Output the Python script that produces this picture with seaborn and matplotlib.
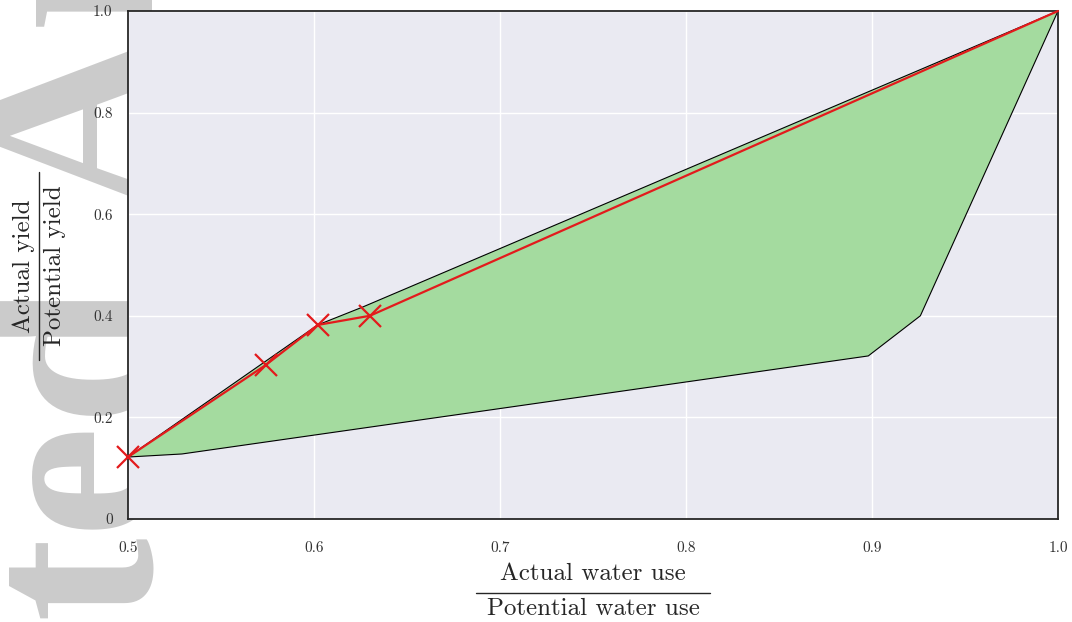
import matplotlib
matplotlib.use("Agg")
import matplotlib.pyplot as plt
from matplotlib.lines import Line2D
import seaborn as sns

# Polygon of feasible outcomes (upper edge then lower edge back)
poly_x = [0.5, 0.602, 0.626, 1.0, 0.926, 0.898, 0.529, 0.5]
poly_y = [0.122, 0.382, 0.417, 1.0, 0.400, 0.321, 0.128, 0.122]

# Red path through the marked points
path_x = [0.5, 0.574, 0.602, 0.630, 1.0]
path_y = [0.122, 0.303, 0.382, 0.400, 1.0]

x_ticks = [0.5, 0.6, 0.7, 0.8, 0.9, 1.0]
x_tick_labels = ["0.5", "0.6", "0.7", "0.8", "0.9", "1.0"]
y_ticks = [0, 0.2, 0.4, 0.6, 0.8, 1.0]
y_tick_labels = ["0", "0.2", "0.4", "0.6", "0.8", "1.0"]

x_label = ("Actual water use", "Potential water use")
y_label = ("Actual yield", "Potential yield")

W, H = 1072, 622

sns.set_theme(style="darkgrid")
plt.rcParams["font.family"] = ["serif"]
plt.rcParams["font.serif"] = ["cmr10", "DejaVu Serif"]
plt.rcParams["mathtext.fontset"] = "cm"
plt.rcParams["axes.formatter.use_mathtext"] = True

fig = plt.figure(figsize=(W / 100, H / 100), dpi=100)
ax = fig.add_axes([128 / W, 103 / H, 930 / W, 508 / H])


def fx(px):
    return px / W


def fy(py):
    return 1 - py / H


# faint watermark behind the axes
wm = dict(rotation=90, rotation_mode="anchor", va="baseline", fontsize=182,
          fontweight="bold", color="#cbcbcb", family="Liberation Serif", zorder=-5)
fig.text(fx(150), fy(282), "Accepted", ha="right", **wm)
fig.text(fx(150), fy(212), "Article", ha="left", **wm)

ax.fill(poly_x, poly_y, facecolor="#a4db9f", edgecolor="black", linewidth=0.8, zorder=2)
ax.plot(path_x, path_y, color="#e31a1c", linewidth=1.6, marker="x", markersize=16,
        markeredgewidth=1.6, markevery=[0, 1, 2, 3], zorder=3, clip_on=False)

ax.set_xlim(0.5, 1.0)
ax.set_ylim(0, 1.0)
ax.set_xticks(x_ticks)
ax.set_xticklabels(x_tick_labels)
ax.set_yticks(y_ticks)
ax.set_yticklabels(y_tick_labels)
ax.tick_params(axis="both", length=0, labelsize=11, colors="#333333")
ax.tick_params(axis="x", pad=16)
ax.tick_params(axis="y", pad=11)

for s in ax.spines.values():
    s.set_visible(True)
    s.set_color("#262626")
    s.set_linewidth(1.3)

# axis labels drawn as fractions
lab = dict(fontsize=18, color="#262626", ha="center", va="center")
fig.text(fx(593), fy(574), x_label[0], **lab)
fig.text(fx(593), fy(609), x_label[1], **lab)
fig.add_artist(Line2D([fx(476), fx(710)], [fy(593), fy(593)], color="#262626", lw=1.0))

fig.text(fx(24), fy(266), y_label[0], rotation=90, **lab)
fig.text(fx(55), fy(266), y_label[1], rotation=90, **lab)
fig.add_artist(Line2D([fx(39), fx(39)], [fy(172), fy(360)], color="#262626", lw=1.0))

fig.savefig("out.png", dpi=100)
